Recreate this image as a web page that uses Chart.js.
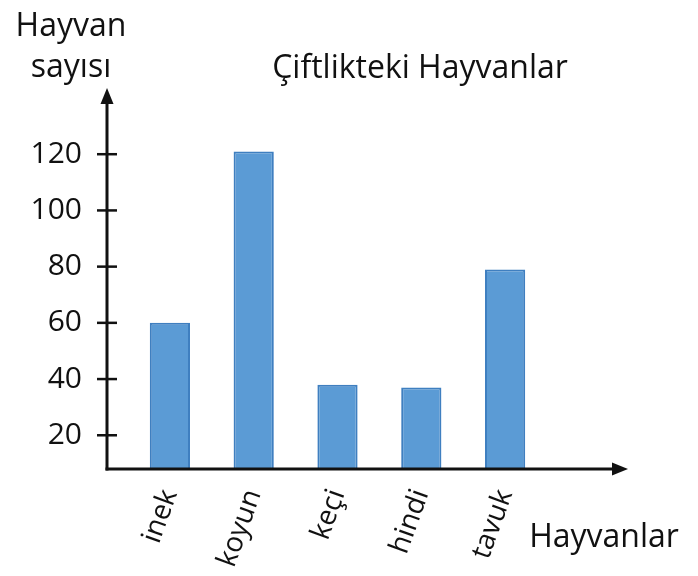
<!DOCTYPE html>
<html lang="tr">
<head>
<meta charset="utf-8">
<title>Çiftlikteki Hayvanlar</title>
<script src="https://cdn.jsdelivr.net/npm/chart.js@4"></script>
<style>
    html, body { margin: 0; padding: 0; background: #fff; }
    #wrap { width: 698px; height: 576px; position: relative; }
</style>
</head>
<body>
<div id="wrap"><canvas id="animalsChart"></canvas></div>
<script>
(function () {
    'use strict';

    // values
    const animals = ['inek', 'koyun', 'keçi', 'hindi', 'tavuk'];
    const counts = [60, 121, 38, 37, 79];
    const yTicks = [20, 40, 60, 80, 100, 120];

    const FONT = '"Open Sans", sans-serif';
    const INK = '#111';

    function arrow(ctx, tipX, tipY, dir) {
        ctx.beginPath();
        if (dir === 'up') {
            ctx.moveTo(tipX, tipY);
            ctx.lineTo(tipX - 6.5, tipY + 16);
            ctx.lineTo(tipX + 6.5, tipY + 16);
        } else {
            ctx.moveTo(tipX, tipY);
            ctx.lineTo(tipX - 16, tipY - 6.5);
            ctx.lineTo(tipX - 16, tipY + 6.5);
        }
        ctx.closePath();
        ctx.fill();
    }

    // axis lines with arrows, tick marks and the free texts
    const axesPlugin = {
        id: 'axesPlugin',
        afterDatasetsDraw: function (chart) {
            const ctx = chart.ctx;
            const area = chart.chartArea;
            const yScale = chart.scales.y;
            const axisX = area.left - 21;
            const axisY = area.bottom;
            const topY = area.top - 10;
            const endX = area.right + 81;

            ctx.save();
            ctx.strokeStyle = INK;
            ctx.fillStyle = INK;
            ctx.lineWidth = 3;
            ctx.lineCap = 'butt';

            ctx.beginPath();
            ctx.moveTo(axisX, axisY + 1.5);
            ctx.lineTo(axisX, topY + 10);
            ctx.stroke();
            arrow(ctx, axisX, topY, 'up');

            ctx.beginPath();
            ctx.moveTo(axisX - 1.5, axisY);
            ctx.lineTo(endX - 12, axisY);
            ctx.stroke();
            arrow(ctx, endX, axisY, 'right');

            ctx.lineWidth = 2.5;
            yTicks.forEach(function (v) {
                const py = yScale.getPixelForValue(v);
                ctx.beginPath();
                ctx.moveTo(axisX - 10, py);
                ctx.lineTo(axisX + 10, py);
                ctx.stroke();
            });

            ctx.font = '32px ' + FONT;
            ctx.textAlign = 'center';
            ctx.textBaseline = 'alphabetic';
            ctx.fillText('Hayvan', axisX - 36, 36);
            ctx.fillText('sayısı', axisX - 36, 77);
            ctx.fillText('Çiftlikteki Hayvanlar', 420, 78);
            ctx.fillText('Hayvanlar', 604, 547);
            ctx.restore();
        }
    };

    const ctx = document.getElementById('animalsChart');
    new Chart(ctx, {
        type: 'bar',
        data: {
            labels: animals,
            datasets: [{
                data: counts,
                backgroundColor: '#5b9bd5',
                borderColor: '#3f7fc0',
                borderWidth: 2,
                barPercentage: 0.48,
                categoryPercentage: 1,
            }],
        },
        options: {
            responsive: true,
            maintainAspectRatio: false,
            animation: false,
            layout: { padding: { top: 98, right: 151, left: 0, bottom: 0 } },
            plugins: {
                legend: { display: false },
                tooltip: { enabled: false },
            },
            scales: {
                x: {
                    grid: { display: false, drawTicks: false },
                    border: { display: false },
                    ticks: {
                        color: INK,
                        font: { family: FONT, size: 28 },
                        minRotation: 70,
                        maxRotation: 70,
                        autoSkip: false,
                        padding: 16,
                    },
                    afterFit: function (scale) { scale.height = 107; },
                },
                y: {
                    min: 8,
                    max: 140,
                    grid: { display: false, drawTicks: false },
                    border: { display: false },
                    afterBuildTicks: function (scale) {
                        scale.ticks = yTicks.map(function (v) { return { value: v }; });
                    },
                    ticks: {
                        color: INK,
                        font: { family: FONT, size: 30 },
                        padding: 46,
                    },
                    afterFit: function (scale) { scale.width = 128; },
                },
            },
        },
        plugins: [axesPlugin],
    });
})();
</script>
</body>
</html>
